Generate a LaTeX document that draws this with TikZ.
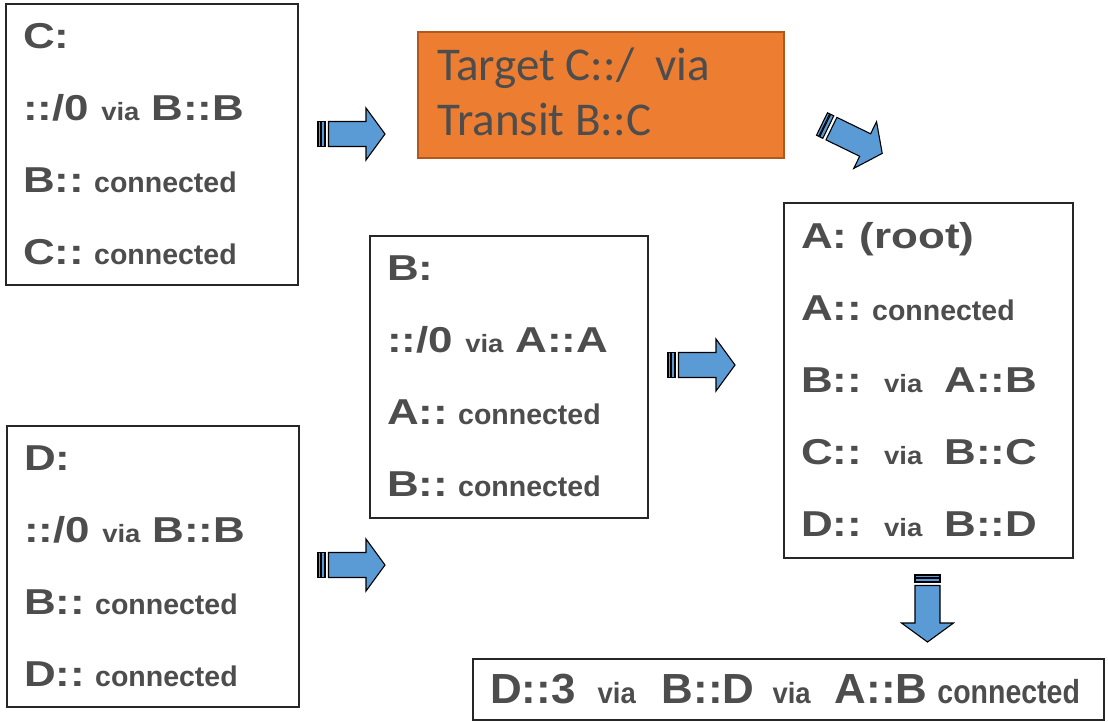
\documentclass[tikz,border=0pt]{standalone}
\usepackage{fontspec}
\setmainfont{Liberation Sans}
\newfontfamily\widesans[FakeStretch=1.22]{Liberation Sans}
\newfontfamily\viasans[FakeStretch=1.1]{Liberation Sans}
\newfontfamily\targetfont{Carlito}
\usetikzlibrary{positioning}

\definecolor{routegray}{HTML}{4D4D4D}
\definecolor{arrowblue}{HTML}{5B9BD5}
\definecolor{targetorange}{HTML}{ED7D31}
\definecolor{targetedge}{HTML}{B1581F}

\tikzstyle{routebox} = [rectangle, draw=black!85, line width=1.6pt, anchor=north west, inner sep=0pt]
\tikzstyle{targetbox} = [rectangle, fill=targetorange, draw=targetedge, line width=1.5pt, anchor=north west, inner sep=0pt]
\tikzstyle{entry} = [anchor=base west, inner sep=0pt, text=routegray, font=\fontsize{36}{36}\widesans\bfseries]
\tikzstyle{targettext} = [anchor=base west, inner sep=0pt, text=routegray, font=\fontsize{47}{47}\targetfont]

\newcommand{\viaword}{{\fontsize{25}{25}\viasans\bfseries via}}
\newcommand{\connword}{\hspace{10pt}{\fontsize{28.5}{28.5}\rmfamily\bfseries connected}}

\tikzset{stripedarrow/.pic={
    \draw [fill=arrowblue, line width=1.1pt] (0,-12.5) rectangle (2.5,12.5);
    \draw [fill=arrowblue, line width=1.1pt] (3.5,-12.5) rectangle (7,12.5);
    \draw [fill=arrowblue, line width=1.1pt] (10.5,-12.5) -- (48,-12.5) -- (48,-26) -- (67,0)
        -- (48,26) -- (48,12.5) -- (10.5,12.5) -- cycle;
}}

\begin{document}
\begin{tikzpicture}[x=1pt, y=-1pt]
    \useasboundingbox (0,0) rectangle (1108,721);

    %Boxes
    \node (boxC) [routebox, minimum width=292pt, minimum height=281pt] at (5,3) {};
    \node (target) [targetbox, minimum width=366pt, minimum height=126pt] at (417,31) {};
    \node (boxB) [routebox, minimum width=278pt, minimum height=282pt] at (369,235) {};
    \node (boxA) [routebox, minimum width=289pt, minimum height=355pt] at (783,202) {};
    \node (boxD) [routebox, minimum width=292pt, minimum height=281pt] at (6,425) {};
    \node (result) [routebox, minimum width=631pt, minimum height=61pt] at (472,658) {};

    %Routes of C
    \node (c1) [entry] at ([xshift=18pt, yshift=-45pt]boxC.north west) {C:};
    \node (c2) [entry] at ([yshift=-72pt]c1.base west) {::/0 \viaword\hspace{12pt}B::B};
    \node (c3) [entry] at ([yshift=-72pt]c2.base west) {B::\connword};
    \node (c4) [entry] at ([yshift=-72pt]c3.base west) {C::\connword};

    %Target
    \node (t1) [targettext] at ([xshift=20pt, yshift=-49pt]target.north west) {Target C::/\ \ via};
    \node (t2) [targettext] at ([yshift=-55pt]t1.base west) {Transit B::C};

    %Routes of B
    \node (b1) [entry] at ([xshift=18pt, yshift=-45pt]boxB.north west) {B:};
    \node (b2) [entry] at ([yshift=-72pt]b1.base west) {::/0 \viaword\hspace{12pt}A::A};
    \node (b3) [entry] at ([yshift=-72pt]b2.base west) {A::\connword};
    \node (b4) [entry] at ([yshift=-72pt]b3.base west) {B::\connword};

    %Routes of A
    \node (a1) [entry] at ([xshift=18pt, yshift=-46pt]boxA.north west) {A: (root)};
    \node (a2) [entry] at ([yshift=-72pt]a1.base west) {A::\connword};
    \node (a3) [entry] at ([yshift=-72pt]a2.base west) {B::\hspace{22pt}\viaword\hspace{22pt}A::B};
    \node (a4) [entry] at ([yshift=-72pt]a3.base west) {C::\hspace{22pt}\viaword\hspace{22pt}B::C};
    \node (a5) [entry] at ([yshift=-72pt]a4.base west) {D::\hspace{22pt}\viaword\hspace{22pt}B::D};

    %Routes of D
    \node (d1) [entry] at ([xshift=18pt, yshift=-45pt]boxD.north west) {D:};
    \node (d2) [entry] at ([yshift=-72pt]d1.base west) {::/0 \viaword\hspace{12pt}B::B};
    \node (d3) [entry] at ([yshift=-72pt]d2.base west) {B::\connword};
    \node (d4) [entry] at ([yshift=-72pt]d3.base west) {D::\connword};

    %Resulting path
    \node (r1) [entry] at ([xshift=18pt, yshift=-45pt]result.north west)
        {\scalebox{1}[1.17]{D::3\hspace{22pt}\viaword\hspace{26pt}B::D\hspace{18pt}\viaword\hspace{24pt}A::B\connword}};

    %Arrows
    \pic (arrowCT) at (318,134) {stripedarrow};
    \pic (arrowTA) [rotate=-26] at (822,124) {stripedarrow};
    \pic (arrowBA) at (668,365) {stripedarrow};
    \pic (arrowDB) at (318,565) {stripedarrow};
    \pic (arrowAR) [rotate=-90] at (927.5,575) {stripedarrow};

\end{tikzpicture}
\end{document}
